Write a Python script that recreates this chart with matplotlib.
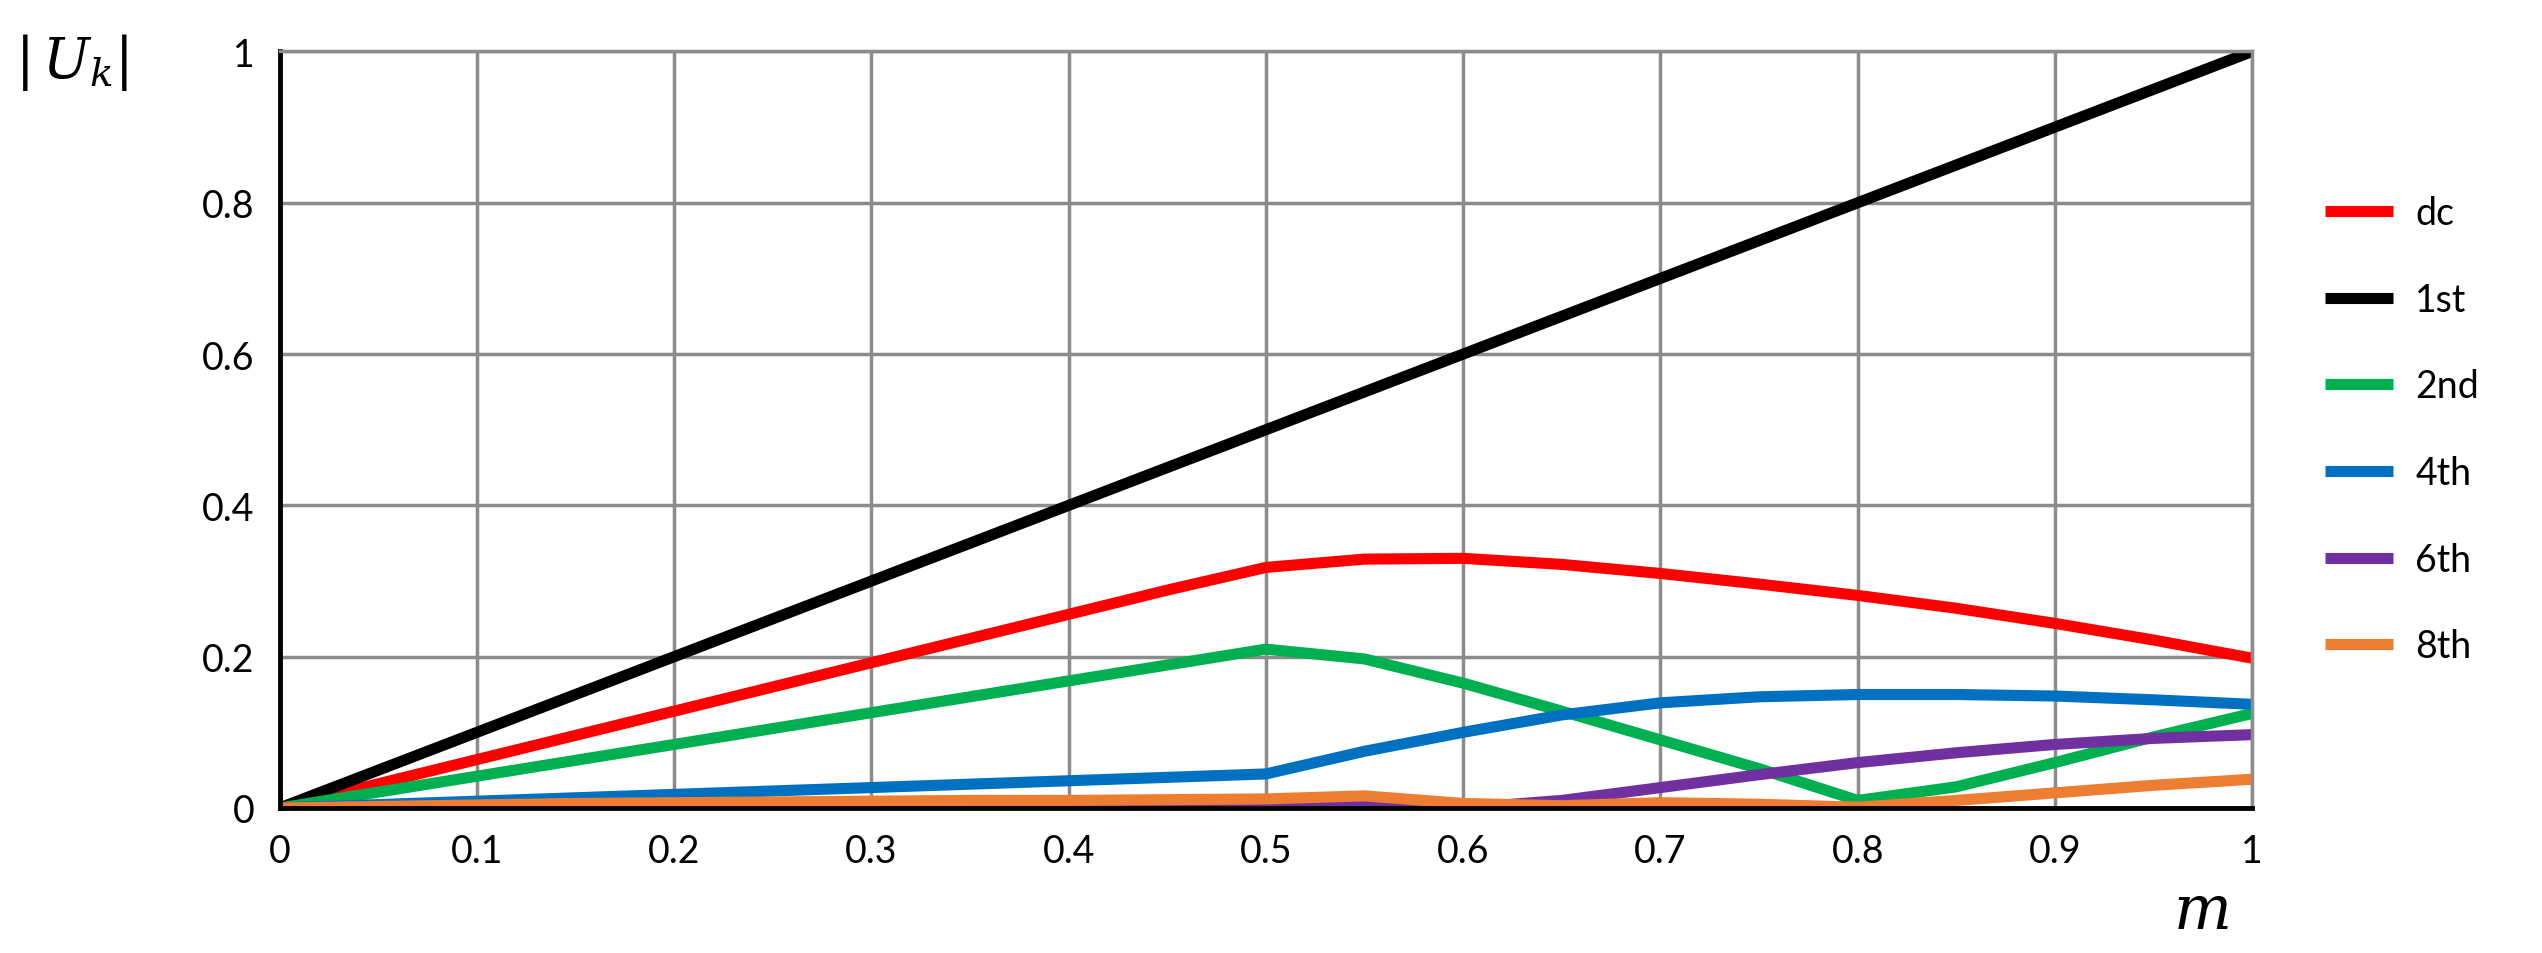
import matplotlib
matplotlib.use("Agg")
import matplotlib.pyplot as plt
import numpy as np

m = [0, 0.05, 0.1, 0.15, 0.2, 0.25, 0.3, 0.35, 0.4, 0.45, 0.5, 0.55, 0.6, 0.65, 0.7, 0.75, 0.8, 0.85, 0.9, 0.95, 1.0]
dc  = [0, 0.032, 0.064, 0.096, 0.128, 0.16, 0.192, 0.224, 0.256, 0.288, 0.318, 0.329, 0.330, 0.322, 0.310, 0.296, 0.281, 0.264, 0.244, 0.222, 0.198]
h1  = [0, 0.05, 0.1, 0.15, 0.2, 0.25, 0.3, 0.35, 0.4, 0.45, 0.5, 0.55, 0.6, 0.65, 0.7, 0.75, 0.8, 0.85, 0.9, 0.95, 1.0]
h2  = [0, 0.021, 0.042, 0.063, 0.084, 0.105, 0.126, 0.147, 0.168, 0.189, 0.210, 0.197, 0.165, 0.128, 0.090, 0.052, 0.010, 0.028, 0.060, 0.094, 0.125]
h4  = [0, 0.0045, 0.009, 0.0135, 0.018, 0.0225, 0.027, 0.0315, 0.036, 0.0405, 0.045, 0.075, 0.100, 0.123, 0.139, 0.147, 0.150, 0.150, 0.148, 0.143, 0.137]
h6  = [0, 0.001, 0.002, 0.003, 0.004, 0.005, 0.006, 0.007, 0.008, 0.009, 0.010, 0.003, 0.000, 0.010, 0.027, 0.044, 0.060, 0.073, 0.084, 0.092, 0.097]
h8  = [0, 0.002, 0.004, 0.006, 0.007, 0.008, 0.009, 0.010, 0.010, 0.011, 0.012, 0.016, 0.006, 0.003, 0.007, 0.005, 0.001, 0.010, 0.020, 0.030, 0.038]

series = [("dc", dc, "#ff0000"), ("1st", h1, "#000000"), ("2nd", h2, "#00b050"),
          ("4th", h4, "#0070c0"), ("6th", h6, "#7030a0"), ("8th", h8, "#ed7d31")]
xticks = [0, 0.1, 0.2, 0.3, 0.4, 0.5, 0.6, 0.7, 0.8, 0.9, 1]
yticks = [0, 0.2, 0.4, 0.6, 0.8, 1]

plt.rcParams['font.family'] = ['Lato', 'DejaVu Sans']
plt.rcParams['mathtext.fontset'] = 'dejavuserif'
fig = plt.figure(figsize=(25.42, 9.54), dpi=100)
ax = fig.add_axes([0.110, 0.152, 0.776, 0.793])
for name, y, c in series:
    ax.plot(m, y, color=c, lw=8, label=name, solid_capstyle='butt', solid_joinstyle='round')
ax.set_xlim(0, 1); ax.set_ylim(0, 1)
ax.set_xticks(xticks); ax.set_yticks(yticks)
ax.set_xticklabels([f"{t:g}" for t in xticks], fontsize=27)
ax.set_yticklabels([f"{t:g}" for t in yticks], fontsize=27)
ax.tick_params(length=0, pad=18)
ax.grid(True, color="#8c8c8c", lw=2.5)
ax.set_axisbelow(True)
for s in ["top", "right"]:
    ax.spines[s].set_color("#8c8c8c"); ax.spines[s].set_linewidth(2.5)
for s in ["left", "bottom"]:
    ax.spines[s].set_color("black"); ax.spines[s].set_linewidth(3.5)
fig.text(0.006, 0.935, r"$|\,U_k|$", fontsize=40, va='center')
fig.text(0.855, 0.045, r"$m$", fontsize=44, va='center')
ax.legend(loc='center left', bbox_to_anchor=(1.02, 0.5), frameon=False, fontsize=27,
          handlelength=1.8, labelspacing=1.35, handletextpad=0.6)
fig.savefig("out.png", dpi=100)
